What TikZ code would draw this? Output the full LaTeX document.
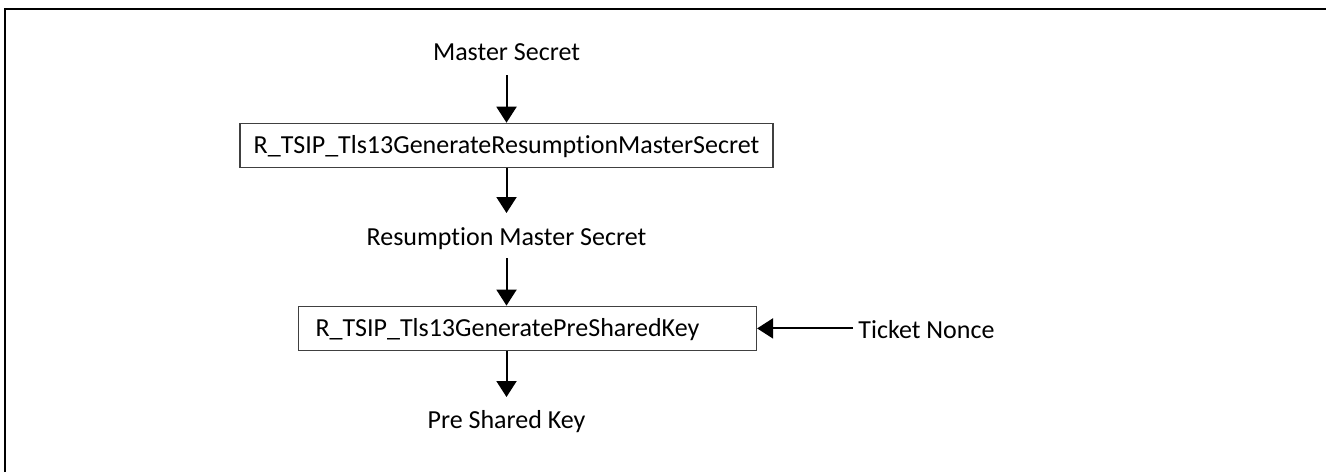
\documentclass[tikz,border=0pt]{standalone}
\usepackage{fontspec}
\setmainfont{Carlito}[Ligatures={NoCommon}]
\usetikzlibrary{arrows.meta}
\begin{document}
\begin{tikzpicture}[x=0.5pt,y=-0.5pt,
  lbl/.style={anchor=base,inner sep=0pt,font=\fontsize{13pt}{15pt}\selectfont},
  fnbox/.style={draw=black!75,line width=0.6pt,rectangle,inner sep=0pt,
    text height=8.4pt,text depth=0pt,font=\fontsize{13pt}{15pt}\selectfont},
  arr/.style={line width=1pt,-{Triangle[length=8pt,width=10pt]}}]
\useasboundingbox (0,0) rectangle (1326,472);
\draw[line width=1pt] (5,472) -- (5,9) -- (1326,9);
\node[lbl] (ms) at (506.5,60.7) {Master Secret};
\node[fnbox,minimum width=266.5pt,minimum height=22.2pt] (b1) at (506.5,145.5) {R\_TSIP\_Tls13GenerateResumptionMasterSecret};
\node[lbl] (rms) at (506.5,245) {Resumption Master Secret};
\node[fnbox,minimum height=22.2pt,text width=212pt,inner xsep=8.5pt,align=left] (b2) at (527.5,328.4) {R\_TSIP\_Tls13GeneratePreSharedKey};
\node[lbl] (psk) at (506.5,428) {Pre Shared Key};
\node[lbl,anchor=base west] (tn) at (858,338) {Ticket Nonce};
\draw[arr] ([yshift=-7.15pt]ms.base) -- (b1.north);
\draw[arr] (b1.south) -- ([yshift=16pt]rms.base);
\draw[arr] ([yshift=-6.5pt]rms.base) -- (b2.north -| rms.base);
\draw[arr] (b2.south -| psk.base) -- ([yshift=15.5pt]psk.base);
\draw[arr] ([xshift=-2.5pt]tn.west |- b2.east) -- (b2.east);
\end{tikzpicture}
\end{document}
